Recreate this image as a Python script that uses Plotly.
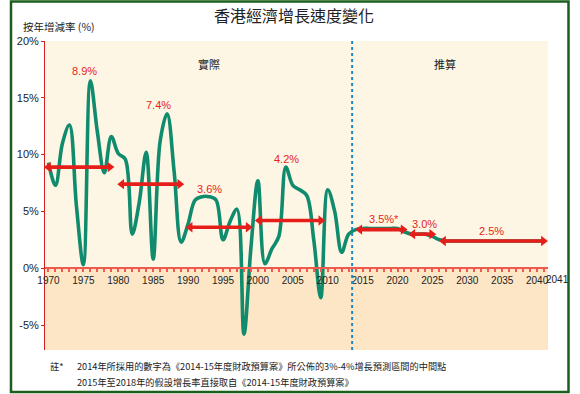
import plotly.graph_objects as go

# ---------------- data ----------------
years = list(range(1970, 2042))
growth = [
    9.3, 7.3, 11.0, 12.6, 5.5, 0.3, 16.5, 12.0, 8.4, 11.6,      # 1970-1979
    10.1, 9.6, 3.0, 5.8, 10.2, 0.8, 11.2, 13.6, 8.5, 2.3,       # 1980-1989
    3.9, 6.0, 6.3, 6.3, 6.0, 2.5, 4.1, 5.2, -5.8, 1.8,          # 1990-1999
    7.7, 0.4, 1.7, 2.8, 8.9, 7.3, 6.9, 6.4, 2.5, -2.6,          # 2000-2009
    6.9, 5.0, 1.4, 3.0, 3.4, 3.5, 3.5, 3.5, 3.5, 3.5,           # 2010-2019
    3.5, 3.2, 3.0, 3.0, 3.0, 2.8, 2.5, 2.4, 2.4, 2.4,           # 2020-2029
    2.4, 2.4, 2.4, 2.4, 2.4, 2.4, 2.4, 2.4, 2.4, 2.4,           # 2030-2039
    2.4, 2.4,                                                   # 2040-2041
]

avg_labels = ["8.9%", "7.4%", "3.6%", "4.2%", "3.5%*", "3.0%", "2.5%"]
avg_values = [8.9, 7.4, 3.6, 4.2, 3.4, 3.0, 2.4]
avg_start = [1970.0, 1980.5, 1990.3, 2000.2, 2014.6, 2022.2, 2026.6]
avg_end = [1978.8, 1988.8, 1998.6, 2009.0, 2020.8, 2024.9, 2040.9]

tick_years = list(range(1970, 2041, 5))
tick_text = [str(y) for y in tick_years]
y_ticks = [-5, 0, 5, 10, 15, 20]
y_text = [f"{v}%" for v in y_ticks]

title = "香港經濟增長速度變化"
y_title = "按年增減率 (%)"
actual_label = "實際"
forecast_label = "推算"
note_mark = "註*"
note_lines = [
    "2014年所採用的數字為《2014-15年度財政預算案》所公佈的3%-4%增長預測區間的中間點",
    "2015年至2018年的假設增長率直接取自《2014-15年度財政預算案》",
]
split_year = 2013.5

# ---------------- layout helpers ----------------
W, H = 580, 394
L, R, T, B = 45, 548, 41, 350
YMIN, YMAX = -7.2, 20
XMIN, XMAX = 1969.5, 2041.56


def px(x):
    return (x - L) / (R - L)


def py(y):
    return (B - y) / (B - T)


CJK = "Noto Sans CJK TC, Noto Sans CJK SC, sans-serif"
NARROW = "Liberation Sans Narrow, Arial Narrow, Liberation Sans, Arial, sans-serif"
RED = "#E61E1A"
GREEN = "#108B6D"

fig = go.Figure()

fig.add_trace(go.Scatter(
    x=years, y=growth, mode="lines",
    line=dict(color=GREEN, width=3.6, shape="spline", smoothing=1.0),
    hoverinfo="skip", showlegend=False,
))

for s, e, v in zip(avg_start, avg_end, avg_values):
    fig.add_trace(go.Scatter(
        x=[s, e], y=[v, v], mode="lines+markers",
        line=dict(color=RED, width=3.6),
        marker=dict(symbol=["triangle-left", "triangle-right"], size=9, color=RED),
        hoverinfo="skip", showlegend=False,
    ))

# label anchor years (layout positions)
label_x = [1975.1, 1985.7, 1993.1, 2004.1, 2018.0, 2023.9, 2033.5]
label_yoff = [0.9, 0.8, 0.7, 0.7, 0.9, 0.9, 0.9]
annotations = []
for i, txt in enumerate(avg_labels):
    span = [g for yr, g in zip(years, growth) if avg_start[i] <= yr <= avg_end[i]]
    peak = max(span) if i < 4 else avg_values[i]
    annotations.append(dict(
        x=label_x[i], y=peak + label_yoff[i], xref="x", yref="y",
        text=txt, showarrow=False, xanchor="center", yanchor="middle",
        font=dict(family=NARROW, size=11, color=RED),
    ))


def paper_text(x, y, text, size, xanchor="center", family=CJK):
    return dict(x=px(x), y=py(y), xref="paper", yref="paper", text=text,
                showarrow=False, xanchor=xanchor, yanchor="middle",
                font=dict(family=family, size=size, color="#222"))


annotations += [
    paper_text(293.5, 15, title, 16),
    paper_text(21, 26.5, y_title, 10.5, xanchor="left"),
    paper_text(209, 64, actual_label, 11),
    paper_text(445, 64, forecast_label, 11),
    paper_text(48, 366, note_mark, 9.2, xanchor="left"),
    paper_text(75, 366, note_lines[0], 9.2, xanchor="left"),
    paper_text(75, 382, note_lines[1], 9.2, xanchor="left"),
    dict(x=2041, y=0, xref="x", yref="y", text="2041", showarrow=False,
         xanchor="center", yanchor="top", xshift=13, yshift=-4,
         font=dict(family=NARROW, size=10, color="#222")),
]

shapes = [
    dict(type="rect", xref="paper", yref="y", x0=0, x1=1, y0=YMIN, y1=0,
         fillcolor="#FCE6C5", line=dict(width=0), layer="below"),
    dict(type="line", xref="x", yref="paper", x0=split_year, x1=split_year, y0=0, y1=1,
         line=dict(color="#1E88C6", width=2, dash="3px,3px"), layer="above"),
    dict(type="rect", xref="paper", yref="paper",
         x0=px(11), x1=px(568.5), y0=py(392), y1=py(1.5),
         line=dict(color="#1C5E1C", width=2.5), fillcolor="rgba(0,0,0,0)", layer="above"),
]

fig.update_layout(
    width=W, height=H, autosize=False,
    margin=dict(l=L, r=W - R, t=T, b=H - B, pad=0),
    paper_bgcolor="white", plot_bgcolor="#FEF6E4",
    showlegend=False, hovermode=False,
    annotations=annotations, shapes=shapes,
    xaxis=dict(
        range=[XMIN, XMAX], anchor="free", position=(0 - YMIN) / (YMAX - YMIN),
        showline=True, linecolor="#EE5A4E", linewidth=2,
        tickvals=tick_years, ticktext=tick_text, ticks="outside", ticklen=3,
        tickcolor="#EE5A4E", tickwidth=1.5,
        minor=dict(dtick=1, tick0=1970, ticks="outside", ticklen=3, tickcolor="#EE5A4E", tickwidth=1.5),
        showgrid=False, zeroline=False,
        tickfont=dict(family=NARROW, size=10, color="#222"),
    ),
    yaxis=dict(
        range=[YMIN, YMAX], showline=True, linecolor="#D42020", linewidth=1,
        tickvals=y_ticks, ticktext=y_text, ticks="outside", ticklen=3,
        tickcolor="#D42020", showgrid=False, zeroline=False,
        tickfont=dict(family="Liberation Sans, Arial, sans-serif", size=11, color="#222"),
    ),
)

fig.write_html("out.html", config={"displayModeBar": False},
               post_script="document.body.style.margin='0';")
